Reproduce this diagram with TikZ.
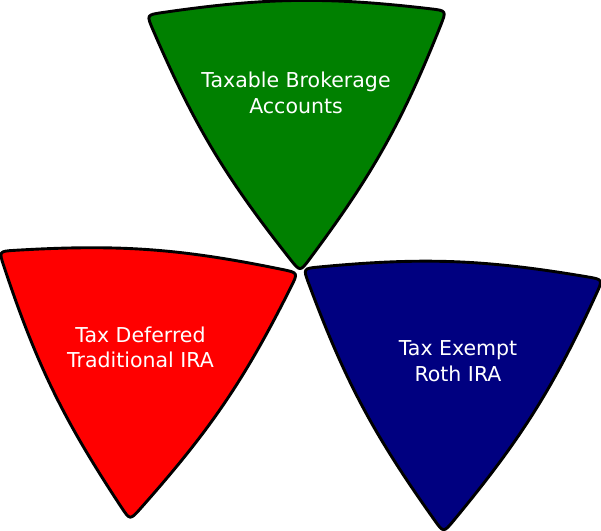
\documentclass[tikz,border=0pt]{standalone}
\usepackage{fontspec}
\setmainfont{DejaVu Sans}
\definecolor{taxgreen}{RGB}{0,128,0}
\definecolor{taxred}{RGB}{255,0,0}
\definecolor{taxblue}{RGB}{0,0,128}
\newcommand\tripath{(-134.14,2.09) to[out=7.5,in=172.5] (134.14,2.09) .. controls (150,0) .. (143.88,-14.78) to[out=247.5,in=52.5] (9.74,-246.31) .. controls (0,-259) .. (-9.74,-246.31) to[out=127.5,in=292.5] (-143.88,-14.78) .. controls (-150,0) .. (-134.14,2.09) -- cycle}
\tikzset{
  tri/.style={draw=black, line width=2.9pt, line join=round},
  lbl/.style={text=white, align=center, inner sep=0pt, font=\fontsize{20.5}{25.5}\selectfont}
}
\begin{document}
\begin{tikzpicture}[x=1pt,y=1pt]
\useasboundingbox (0,0) rectangle (601,530);
\begin{scope}[shift={(296.5,517.2)}, rotate=0.8]
  \path[tri, fill=taxgreen] \tripath;
\end{scope}
\begin{scope}[shift={(148.5,268)}, rotate=-4.1]
  \path[tri, fill=taxred] \tripath;
\end{scope}
\begin{scope}[shift={(453,256)}, rotate=-2.1]
  \path[tri, fill=taxblue] \tripath;
\end{scope}
\node[lbl] (taxable) at (296,437.1) {Taxable Brokerage\\Accounts};
\node[lbl] (deferred) at (140.5,182.6) {Tax Deferred\\Traditional IRA};
\node[lbl] (exempt) at (458,169) {Tax Exempt\\Roth IRA};
\end{tikzpicture}
\end{document}
